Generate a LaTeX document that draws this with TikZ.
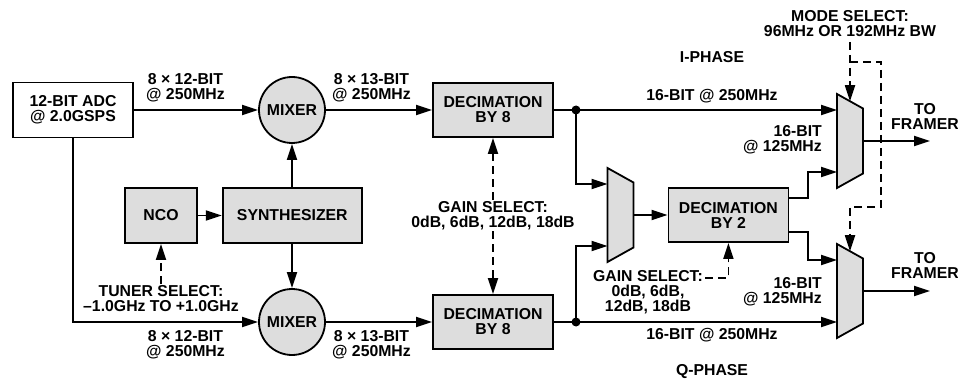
\documentclass[tikz,border=0pt]{standalone}
\usepackage{fontspec}
\setmainfont{Liberation Sans}
\usetikzlibrary{arrows.meta,positioning,calc}
\definecolor{boxgray}{RGB}{221,221,221}

% trapezoid selector: name, centre
\newcommand{\muxblock}[2]{%
  \node[muxbox] (#1) at (#2) {};
  \draw[muxshape] (#1.north west) -- ($(#1.east)+(0,-32.5)$) coordinate (#1-ne)
    -- ($(#1.east)+(0,32.5)$) -- (#1.south west) -- cycle;
  \coordinate (#1-top) at ($(#1.north west)!0.5!(#1-ne)$);
  \coordinate (#1-in1) at ($(#1.west)+(0,-31)$);
  \coordinate (#1-in2) at ($(#1.west)+(0,31)$);
}

\begin{document}
\begin{tikzpicture}[
  x=1pt, y=-1pt,
  every node/.style={font=\fontsize{15.8}{15}\selectfont\bfseries, align=center, inner sep=1pt},
  block/.style={rectangle, draw, line width=1.8pt, fill=boxgray, minimum width=120pt, minimum height=54pt},
  mixer/.style={circle, draw, line width=1.8pt, fill=boxgray, minimum size=66pt, inner sep=0pt},
  muxbox/.style={rectangle, minimum width=26pt, minimum height=94pt, inner sep=0pt, outer sep=0pt},
  muxshape/.style={draw, line width=1.8pt, fill=boxgray, line join=miter},
  wire/.style={line width=1.8pt},
  arrow/.style={wire, -{Triangle[length=16pt,width=10pt]}},
  dasharrow/.style={arrow, dash pattern=on 8pt off 5pt},
  lbl/.style={fill=white, inner sep=1pt}
]
\useasboundingbox (0,0) rectangle (958,379);

% front end
\node[block, fill=white, minimum height=55pt] (adc) at (73,110) {12-BIT ADC\\@ 2.0GSPS};
\node[mixer] (mixtop) at (292,110) {MIXER};
\node[mixer] (mixbot) at (292,322) {MIXER};
\node[block, minimum width=72pt, minimum height=55pt] (nco) at (161,215.5) {NCO};
\node[block, minimum width=139pt, minimum height=55pt, right=24pt of nco] (synth) {SYNTHESIZER};
\node[block] (dectop) at (493,110) {DECIMATION\\BY 8};
\node[block] (decbot) at (493,322) {DECIMATION\\BY 8};

% selectors
\muxblock{muxmid}{620.5,215}
\muxblock{muxtop}{850,141}
\muxblock{muxbot}{850,291}
\node[block, right=34pt of muxmid] (dec2) {DECIMATION\\BY 2};

\coordinate (jtop) at (576,110);
\coordinate (jbot) at (576,322);
\coordinate (outtop) at (930,141);
\coordinate (outbot) at (930,291);

\draw[arrow] (adc) -- (mixtop);
\draw[arrow] (mixtop) -- (dectop);
\draw[arrow] (adc.south) |- (mixbot.west);
\draw[arrow] (mixbot) -- (decbot);
\draw[arrow] (nco) -- (synth);
\draw[arrow] (synth.north -| mixtop) -- (mixtop.south);
\draw[arrow] (synth.south -| mixbot) -- (mixbot.north);

\draw[wire] (dectop) -- (jtop);
\draw[arrow] (jtop) -- (muxtop-in1);
\draw[arrow] (jtop) |- (muxmid-in1);
\draw[wire] (decbot) -- (jbot);
\draw[arrow] (jbot) -- (muxbot-in2);
\draw[arrow] (jbot) |- (muxmid-in2);
\fill (jtop) circle (4.5pt);
\fill (jbot) circle (4.5pt);

\draw[arrow] (muxmid) -- (dec2);
\draw[arrow] ($(dec2.east)+(0,-17)$) -- ++(19,0) |- (muxtop-in2);
\draw[arrow] ($(dec2.east)+(0,17)$) -- ++(19,0) |- (muxbot-in1);
\draw[arrow] (muxtop.east) -- (outtop);
\draw[arrow] (muxbot.east) -- (outbot);

% control inputs
\node (tuner) at (161,298.5) {TUNER SELECT:\\–1.0GHz TO +1.0GHz};
\draw[dasharrow] (tuner) -- (nco);

\draw[dasharrow, {Triangle[length=16pt,width=10pt]}-{Triangle[length=16pt,width=10pt]}] (dectop) -- (decbot);
\node[lbl] (gain1) at (493,215.5) {GAIN SELECT:\\0dB, 6dB, 12dB, 18dB};

\node (gain2) at (648,292) {GAIN SELECT:\\0dB, 6dB,\\12dB, 18dB};
\coordinate (gain2sel) at (705,278);
\draw[dasharrow] (gain2sel) -| (dec2.south);

\node (mode) at (850,23.5) {MODE SELECT:\\96MHz OR 192MHz BW};
\coordinate (modebr) at (850,62);
\draw[dasharrow, shorten <=4pt] (mode) -- (muxtop-top);
\draw[dasharrow] (modebr) -- ++(31,0) -- ++(0,145) -- ++(-31,0) -- (muxbot-top);

% rate labels
\node (rate1) at (185.5,87.5) {8 × 12-BIT\\@ 250MHz};
\node (rate2) at (371.5,87.5) {8 × 13-BIT\\@ 250MHz};
\node (rate3) at (185.5,345) {8 × 12-BIT\\@ 250MHz};
\node (rate4) at (371.5,345) {8 × 13-BIT\\@ 250MHz};
\node (rate5) at (712,96) {16-BIT @ 250MHz};
\node (rate6) at (712,335) {16-BIT @ 250MHz};
\node[anchor=east, align=right] (rate7) at (823,140) {16-BIT\\@ 125MHz};
\node[anchor=east, align=right] (rate8) at (823,291.5) {16-BIT\\@ 125MHz};

\node (iphase) at (712,57) {I-PHASE};
\node (qphase) at (712,372) {Q-PHASE};
\node (framertop) at (925,116.5) {TO\\FRAMER};
\node (framerbot) at (925,265) {TO\\FRAMER};
\end{tikzpicture}
\end{document}
